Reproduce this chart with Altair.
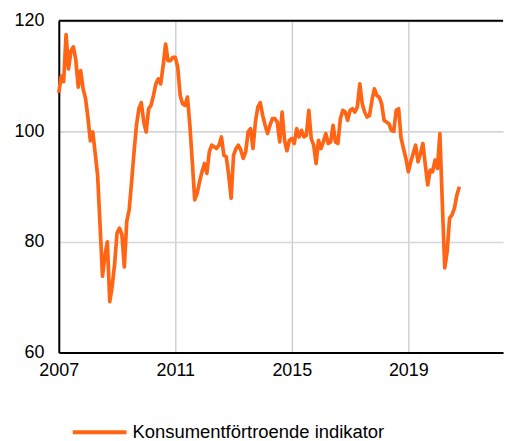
import altair as alt
import pandas as pd

start_year = 2007
series_name = "Konsumentförtroende indikator"
values = [
    107, 110, 109, 117.5, 111.3, 114.5, 115.3, 113, 108, 111, 107.7, 106,
    102.5, 98.3, 99.9, 96, 92, 83, 73.8, 77.5, 80, 69.2, 72, 76,
    81.6, 82.5, 81.3, 75.5, 83.7, 85.8, 90.9, 96.3, 101.1, 104.1, 105.2, 101.7,
    99.9, 104.1, 104.7, 106.5, 108.6, 109.5, 108.6, 111.9, 115.8, 112.8, 112.8, 113.4,
    113.4, 111.6, 106.5, 105, 104.7, 106.2, 101.1, 94.5, 87.6, 88.8, 90.9, 92.7,
    94.2, 92.4, 96.3, 97.5, 97.2, 96.9, 97.5, 99, 95.7, 95.4, 92.1, 87.9,
    95.7, 96.9, 97.5, 96.6, 95.1, 96.3, 99.9, 100.5, 96.9, 101.7, 104.4, 105.2,
    102.9, 101.1, 99.6, 101.1, 102.3, 102.3, 101.7, 98.1, 103.5, 98.4, 96.5, 98.4,
    98.7, 97.8, 100.5, 99, 100.2, 99, 99.3, 103.8, 98.7, 97.5, 94.2, 98.4,
    96.9, 98.1, 99.6, 97.8, 98.1, 101.1, 98.1, 97.8, 102.3, 103.8, 103.5, 102,
    103.8, 104.1, 103.5, 104.4, 108.6, 105, 103.5, 102.6, 102.9, 105.6, 107.7, 106.5,
    106.2, 105, 102, 101.7, 101.4, 100.2, 100, 103.8, 104.1, 98.8, 96.9, 95.1,
    92.7, 94.5, 96, 97.5, 94.5, 96, 97.8, 93.9, 90.3, 93, 92.7, 94.8,
    93.3, 99.6, 87, 75.3, 78.3, 84.3, 84.9, 86.1, 88.5, 90,
]
x_ticks = [2007, 2011, 2015, 2019]
y_ticks = [60, 80, 100, 120]

t = [start_year + i / 12 for i in range(len(values))]
df = pd.DataFrame({"t": t, "v": values, "s": [series_name] * len(values)})

W, H = 446, 333
FONT = "Liberation Sans"

line = alt.Chart(df).mark_line(strokeWidth=3.7, strokeJoin="round").encode(
    x=alt.X(
        "t:Q",
        scale=alt.Scale(domain=[2007, 2022.25], nice=False, zero=False),
        axis=alt.Axis(
            values=x_ticks, format="d", title=None, labelFontSize=18, labelFont=FONT,
            labelColor="black", labelPadding=9, tickSize=0, labelFlush=False,
            grid=True, gridColor="#c6c6c6", gridWidth=1.2,
            domainColor="black", domainWidth=2,
        ),
    ),
    y=alt.Y(
        "v:Q",
        scale=alt.Scale(domain=[60, 120], nice=False, zero=False),
        axis=alt.Axis(
            values=y_ticks, title=None, labelFontSize=18, labelFont=FONT,
            labelColor="black", labelPadding=15, tickSize=0, labelFlush=False,
            grid=True, gridColor="#d6d6d6", gridWidth=1.6,
            domainColor="black", domainWidth=2,
        ),
    ),
    color=alt.Color(
        "s:N",
        scale=alt.Scale(domain=[series_name], range=["#ff6515"]),
        legend=alt.Legend(
            title=None, orient="none", legendX=12, legendY=384,
            symbolType="stroke", symbolSize=2916, symbolStrokeWidth=4,
            labelFontSize=18.5, labelFont=FONT, labelColor="black",
            labelOffset=4, padding=0, labelLimit=0,
        ),
    ),
)

top = alt.Chart(pd.DataFrame({"a": [0]})).mark_rule(color="black", strokeWidth=2).encode(
    y=alt.datum(120), x=alt.value(0), x2=alt.value(W)
)

chart = alt.layer(line, top).properties(
    width=W, height=H,
    padding={"left": 5, "top": 3, "right": 0, "bottom": 3},
).configure_view(stroke=None)

chart.save("out.html", embed_options={"renderer": "svg", "actions": False})
